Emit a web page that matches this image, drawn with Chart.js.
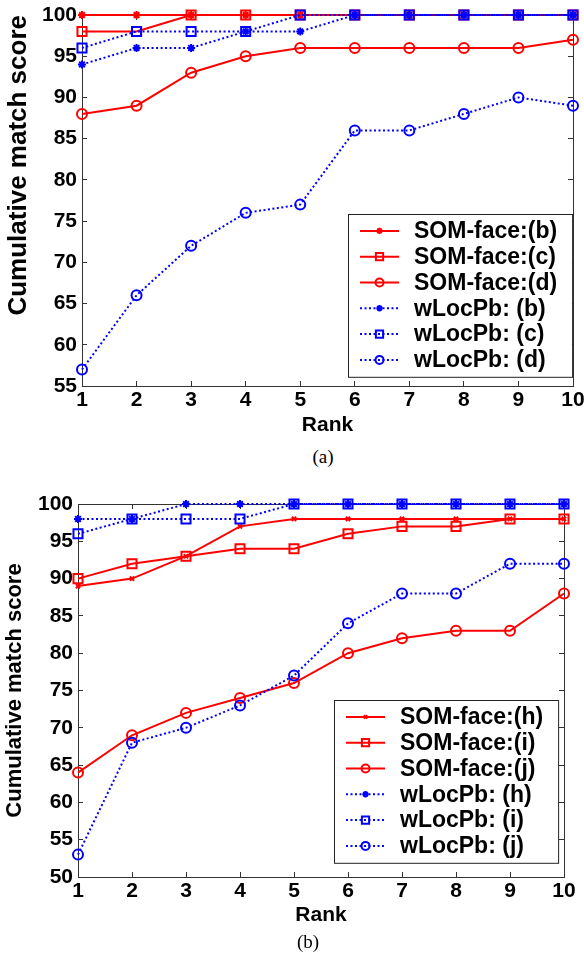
<!DOCTYPE html>
<html>
<head>
<meta charset="utf-8">
<script src="https://cdn.jsdelivr.net/npm/chart.js@4/dist/chart.umd.min.js"></script>
<style>
  html, body { margin: 0; padding: 0; background: #fff; }
  #page { position: relative; width: 584px; height: 954px; overflow: hidden; background: #fff; }
  canvas { position: absolute; left: 0; }
  .cap { position: absolute; font-family: "Liberation Serif", "Times New Roman", serif; font-size: 19px; line-height: 1; color: #000; transform: translateX(-50%); }
</style>
</head>
<body>
<div id="page">
  <canvas id="chartA" width="584" height="442" style="top:0px"></canvas>
  <div class="cap" style="left:323px; top:447px;">(a)</div>
  <canvas id="chartB" width="584" height="472" style="top:460px"></canvas>
  <div class="cap" style="left:308px; top:932px;">(b)</div>
</div>
<script>
// x categories
const ranks = ['1', '2', '3', '4', '5', '6', '7', '8', '9', '10'];

// chart (a)
const labelsA = ['SOM-face:(b)', 'SOM-face:(c)', 'SOM-face:(d)', 'wLocPb: (b)', 'wLocPb: (c)', 'wLocPb: (d)'];
const somB = [100, 100, 100, 100, 100, 100, 100, 100, 100, 100];
const somC = [98, 98, 100, 100, 100, 100, 100, 100, 100, 100];
const somD = [88, 89, 93, 95, 96, 96, 96, 96, 96, 97];
const locB = [94, 96, 96, 98, 98, 100, 100, 100, 100, 100];
const locC = [96, 98, 98, 98, 100, 100, 100, 100, 100, 100];
const locD = [57, 66, 72, 76, 77, 86, 86, 88, 90, 89];

// chart (b)
const labelsB = ['SOM-face:(h)', 'SOM-face:(i)', 'SOM-face:(j)', 'wLocPb: (h)', 'wLocPb: (i)', 'wLocPb: (j)'];
const somH = [89, 90, 93, 97, 98, 98, 98, 98, 98, 98];
const somI = [90, 92, 93, 94, 94, 96, 97, 97, 98, 98];
const somJ = [64, 69, 72, 74, 76, 80, 82, 83, 83, 88];
const locH = [98, 98, 100, 100, 100, 100, 100, 100, 100, 100];
const locI = [96, 98, 98, 98, 100, 100, 100, 100, 100, 100];
const locJ = [53, 68, 70, 73, 77, 84, 88, 88, 92, 92];

const FONT = '"Liberation Sans", Arial, Helvetica, sans-serif';
const AXIS = '#333';

// one line series; blue dotted ones are drawn on top of the red ones
function series(label, data, color, marker, radius, dotted) {
    return {
        label: label,
        data: data,
        borderColor: color,
        backgroundColor: color,
        borderWidth: 2,
        borderDash: dotted ? [2, 2.5] : [],
        pointStyle: marker,
        pointRadius: radius,
        pointBorderWidth: 2,
        pointBorderColor: color,
        pointBackgroundColor: 'rgba(0,0,0,0)',
        tension: 0,
        fill: false,
        clip: false,
        order: dotted ? 0 : 1
    };
}

// boxed legend inside the plot, bottom right, matlab style
const boxLegend = {
    id: 'boxLegend',
    afterDraw(chart, args, opts) {
        const ctx = chart.ctx;
        const area = chart.chartArea;
        const sets = chart.data.datasets;
        ctx.save();
        ctx.font = 'bold 23px ' + FONT;
        let tw = 0;
        sets.forEach(d => { tw = Math.max(tw, ctx.measureText(d.label).width); });
        const w = 66 + tw + 15;
        const h = sets.length * 25.8 + 8;
        const x0 = Math.round(area.right - opts.right - w);
        const y0 = Math.round(area.bottom - opts.bottom - h);
        ctx.fillStyle = '#fff';
        ctx.fillRect(x0, y0, w, h);
        ctx.strokeStyle = '#222';
        ctx.lineWidth = 1;
        ctx.strokeRect(x0 + 0.5, y0 + 0.5, w, h);
        sets.forEach((d, i) => {
            const y = y0 + 4 + 25.8 * (i + 0.5);
            ctx.strokeStyle = d.borderColor;
            ctx.lineWidth = d.borderWidth;
            ctx.setLineDash(d.borderDash);
            ctx.beginPath();
            ctx.moveTo(x0 + 12, y);
            ctx.lineTo(x0 + 51, y);
            ctx.stroke();
            ctx.setLineDash([]);
            if (Chart.helpers && Chart.helpers.drawPoint) {
                ctx.fillStyle = d.pointBackgroundColor;
                ctx.strokeStyle = d.pointBorderColor;
                ctx.lineWidth = d.pointBorderWidth;
                Chart.helpers.drawPoint(ctx, {
                    pointStyle: d.pointStyle,
                    radius: d.pointRadius * 0.8,
                    borderWidth: d.pointBorderWidth,
                    rotation: 0
                }, x0 + 31.5, y);
            }
            ctx.fillStyle = '#000';
            ctx.textAlign = 'left';
            ctx.textBaseline = 'middle';
            ctx.fillText(d.label, x0 + 66, y + 1);
        });
        ctx.restore();
    }
};

// drop the label overhang padding so the plot box lands where we ask
function noPad(s) {
    s.paddingTop = 0;
    s.paddingBottom = 0;
    s.paddingLeft = 0;
    s.paddingRight = 0;
}

function makeChart(id, datasets, cfg) {
    const inward = { drawOnChartArea: false, drawTicks: true, tickLength: -5, color: AXIS, lineWidth: 1 };
    const border = { display: true, color: AXIS, width: 1 };
    return new Chart(document.getElementById(id), {
        type: 'line',
        data: { labels: ranks, datasets: datasets },
        options: {
            responsive: false,
            animation: false,
            events: [],
            layout: { padding: { top: cfg.padTop, right: cfg.padRight, left: 0, bottom: 0 } },
            scales: {
                x: {
                    type: 'category',
                    position: 'bottom',
                    grid: inward,
                    border: border,
                    ticks: { color: '#000', padding: 7, maxRotation: 0, autoSkip: false, font: { family: FONT, size: 21, weight: 'bold' } },
                    title: { display: true, text: 'Rank', color: '#000', padding: { top: 2, bottom: 4 }, font: { family: FONT, size: 21, weight: 'bold' } },
                    afterFit: s => { s.height = cfg.xHeight; noPad(s); }
                },
                x2: {
                    type: 'category',
                    position: 'top',
                    grid: inward,
                    border: border,
                    ticks: { display: false },
                    afterFit: s => { s.height = 0; noPad(s); }
                },
                y: {
                    type: 'linear',
                    position: 'left',
                    min: cfg.yMin,
                    max: 100,
                    grid: inward,
                    border: border,
                    ticks: { stepSize: 5, color: '#000', padding: 10, font: { family: FONT, size: 21, weight: 'bold' } },
                    title: { display: true, text: 'Cumulative match score', color: '#000', align: cfg.titleAlign, padding: { top: cfg.titlePad, bottom: 0 }, font: { family: FONT, size: cfg.titleSize, weight: 'bold' } },
                    afterFit: s => { s.width = cfg.yWidth; noPad(s); }
                },
                y2: {
                    type: 'linear',
                    position: 'right',
                    min: cfg.yMin,
                    max: 100,
                    grid: inward,
                    border: border,
                    ticks: { display: false, stepSize: 5 },
                    afterFit: s => { s.width = 0; noPad(s); }
                }
            },
            plugins: {
                legend: { display: false },
                tooltip: { enabled: false },
                boxLegend: { right: cfg.legRight, bottom: cfg.legBottom }
            }
        },
        plugins: [boxLegend]
    });
}

const RED = '#ff0000';
const BLUE = '#0000ff';

makeChart('chartA', [
    series(labelsA[0], somB, RED, 'star', 4, false),
    series(labelsA[1], somC, RED, 'rect', 6.4, false),
    series(labelsA[2], somD, RED, 'circle', 5, false),
    series(labelsA[3], locB, BLUE, 'star', 4, true),
    series(labelsA[4], locC, BLUE, 'rect', 6.4, true),
    series(labelsA[5], locD, BLUE, 'circle', 5, true)
], { padTop: 15, padRight: 11, xHeight: 56, yWidth: 82, yMin: 55, titleSize: 26, titleAlign: 'end', titlePad: 3, legRight: 1, legBottom: 9 });

makeChart('chartB', [
    series(labelsB[0], somH, RED, 'crossRot', 3, false),
    series(labelsB[1], somI, RED, 'rect', 6.4, false),
    series(labelsB[2], somJ, RED, 'circle', 5, false),
    series(labelsB[3], locH, BLUE, 'star', 4, true),
    series(labelsB[4], locI, BLUE, 'rect', 6.4, true),
    series(labelsB[5], locJ, BLUE, 'circle', 5, true)
], { padTop: 44, padRight: 20, xHeight: 55, yWidth: 78, yMin: 50, titleSize: 22, titleAlign: 'center', titlePad: 2, legRight: 6, legBottom: 14 });
</script>
</body>
</html>
